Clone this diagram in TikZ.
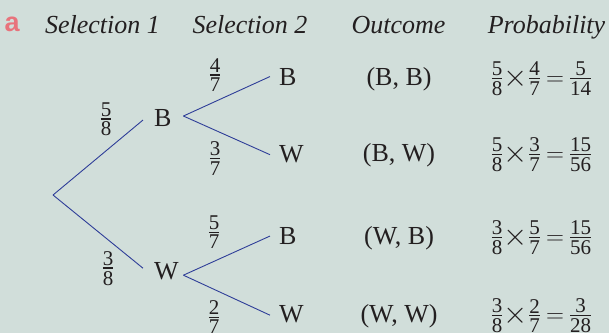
\documentclass[tikz,border=0pt]{standalone}
\usepackage{fontspec}
\usepackage{amsmath}
\setmainfont{Liberation Serif}
\newfontfamily\tagfont{Liberation Sans}
\definecolor{bgc}{HTML}{D1DEDA}
\definecolor{txtc}{HTML}{231F20}
\definecolor{linec}{HTML}{2E3D98}
\definecolor{tagc}{HTML}{E8737C}
\newcommand\dg[1]{\hbox{\fontsize{21}{21}\selectfont #1}}
\newcommand\fr[2]{\vcenter{\hbox{\vbox{\offinterlineskip\halign{\hfil##\hfil\cr \dg{#1}\cr\noalign{\kern2pt\hrule height1.2pt\kern2.5pt}\dg{#2}\cr}}}}}
\newcommand\bigtimes{\mathbin{\vcenter{\hbox{\scalebox{1.25}{$\times$}}}}}
\medmuskip=1mu
\thickmuskip=4.5mu
\nulldelimiterspace=0pt
\tikzset{
  head/.style={anchor=base,inner sep=0pt,font=\fontsize{26}{30}\selectfont\itshape},
  midnode/.style={anchor=base west,inner xsep=11pt,inner ysep=0pt,text width=18pt,align=left},
  leaf/.style={anchor=base west,inner xsep=9pt,inner ysep=0pt},
  fracl/.style={anchor=base,inner sep=0pt},
  rowtxt/.style={anchor=base,inner sep=0pt},
  branch/.style={draw=linec,line width=0.9pt}
}
\begin{document}
\begin{tikzpicture}[x=1pt,y=-1pt,font=\fontsize{26}{30}\selectfont,text=txtc]
\fill[bgc] (0,0) rectangle (609,333);
\useasboundingbox (0,0) rectangle (609,333);
% header
\node[anchor=base west,inner sep=0pt,text=tagc,font=\fontsize{27}{30}\selectfont\tagfont\bfseries] (tag) at (4.5,31) {a};
\node[head] (h1) at (102.5,33) {Selection 1};
\node[head] (h2) at (250,33) {Selection 2};
\node[head] (h3) at (398.5,33) {Outcome};
\node[head] (h4) at (546.5,33) {Probability};
% tree
\coordinate (root) at (53,195);
\node[midnode] (b1) at (143,126) {B};
\node[midnode] (w1) at (143,279) {W};
\node[leaf] (bb) at (270,85) {B};
\node[leaf] (bw) at (270,162) {W};
\node[leaf] (wb) at (270,244) {B};
\node[leaf] (ww) at (270,322) {W};
\draw[branch] (root) -- ([yshift=-2.5pt]b1.west);
\draw[branch] (root) -- ([yshift=2.5pt]w1.west);
\draw[branch] ([yshift=1.5pt]b1.east) -- (bb.west);
\draw[branch] ([yshift=1.5pt]b1.east) -- ([yshift=-1pt]bw.west);
\draw[branch] ([yshift=-4.5pt]w1.east) -- ([yshift=-0.5pt]wb.west);
\draw[branch] ([yshift=-4.5pt]w1.east) -- ([yshift=-1.5pt]ww.west);
% branch probabilities
\node[fracl] (f58) at (106,125.5) {$\fr58$};
\node[fracl] (f38) at (108,274.5) {$\fr38$};
\node[fracl] (f47) at (215,81.5) {$\fr47$};
\node[fracl] (f37) at (215,164.5) {$\fr37$};
\node[fracl] (f57) at (214,238.5) {$\fr57$};
\node[fracl] (f27) at (214,323.5) {$\fr27$};
% outcomes
\node[rowtxt] (o1) at (399,85) {(B, B)};
\node[rowtxt] (o2) at (399,161) {(B, W)};
\node[rowtxt] (o3) at (399,244) {(W, B)};
\node[rowtxt] (o4) at (399,322) {(W, W)};
% probabilities
\node[rowtxt] (p1) at (541.5,85) {$\fr58\bigtimes\fr47=\fr5{14}$};
\node[rowtxt] (p2) at (541.5,161) {$\fr58\bigtimes\fr37=\fr{15}{56}$};
\node[rowtxt] (p3) at (541.5,244) {$\fr38\bigtimes\fr57=\fr{15}{56}$};
\node[rowtxt] (p4) at (541.5,322) {$\fr38\bigtimes\fr27=\fr3{28}$};
\end{tikzpicture}
\end{document}
